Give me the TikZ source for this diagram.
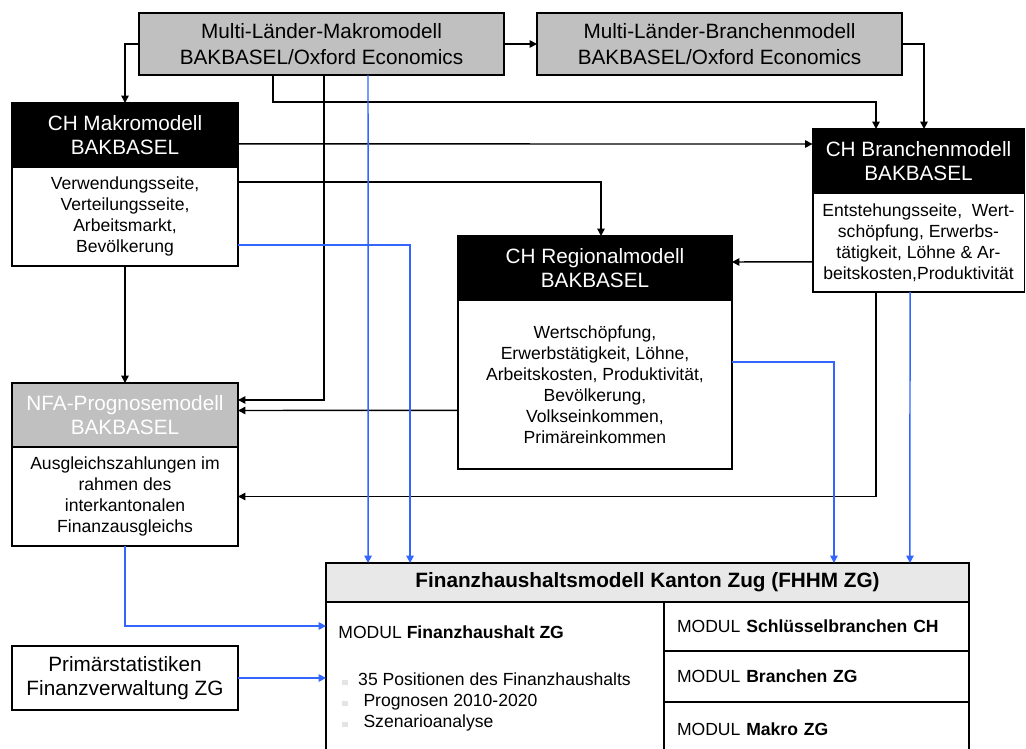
\documentclass[tikz,border=0pt]{standalone}
\usepackage{fontspec}
\setmainfont{Liberation Sans}
\usetikzlibrary{arrows.meta,positioning}
\definecolor{bakgray}{RGB}{192,192,192}
\definecolor{titlegray}{RGB}{232,232,232}
\definecolor{flowblue}{RGB}{51,102,255}
\definecolor{dotgray}{RGB}{228,228,228}
\newcommand{\hdfont}{\fontsize{11.8}{14}\selectfont}
\newcommand{\bdfont}{\fontsize{10}{12}\selectfont}
\newcommand{\bul}{\textcolor{dotgray}{\rule{3pt}{3pt}}}

\begin{document}
\begin{tikzpicture}[x=0.02cm, y=-0.02cm]
\tikzstyle{box}=[draw, line width=1.1pt, outer sep=0pt, inner sep=2pt, align=center]
\tikzstyle{topbox}=[box, fill=bakgray, minimum width=7.3cm, minimum height=1.24cm,
  font=\fontsize{11.8}{15}\selectfont]
\tikzstyle{head}=[box, fill=black, text=white, minimum height=1.28cm, font=\hdfont]
\tikzstyle{body}=[box, fill=white, font=\bdfont]
\tikzstyle{modbox}=[box, minimum width=6.1cm, text width=5.58cm, inner xsep=0.26cm,
  align=left, font=\bdfont]
\tikzstyle{arr}=[-{Triangle[length=4.2pt,width=4.2pt]}, line width=0.85pt]
\tikzstyle{barr}=[arr, flowblue]
\useasboundingbox (0,0) rectangle (1026,749);
\clip (0,0) rectangle (1026,749);
\node[topbox] (mlmakro) at (321.5,44) {Multi-Länder-Makromodell\\BAKBASEL/Oxford Economics};
\node[topbox] (mlbranch) at (719.5,44) {Multi-Länder-Branchenmodell\\BAKBASEL/Oxford Economics};
\node[head, minimum width=4.52cm] (chmakrohead) at (125,135) {CH Makromodell\\BAKBASEL};
\node[body, minimum width=4.52cm, minimum height=1.98cm, below=0pt of chmakrohead]
  (chmakrobody) {Verwendungsseite,\\Verteilungsseite,\\Arbeitsmarkt,\\Bevölkerung};
\node[head, minimum width=4.24cm] (chbranchhead) at (918.5,161) {CH Branchenmodell\\BAKBASEL};
\node[body, minimum width=4.24cm, minimum height=1.98cm, inner xsep=0pt, below=0pt of chbranchhead]
  (chbranchbody) {Entstehungsseite,\ \ Wert-\\schöpfung, Erwerbs-\\tätigkeit, Löhne \& Ar-\\beitskosten,Produktivität};
\node[head, minimum width=5.48cm] (chregiohead) at (595,268) {CH Regionalmodell\\BAKBASEL};
\node[body, minimum width=5.48cm, minimum height=3.38cm, below=0pt of chregiohead]
  (chregiobody) {Wertschöpfung,\\Erwerbstätigkeit, Löhne,\\Arbeitskosten, Produktivität,\\Bevölkerung,\\Volkseinkommen,\\Primäreinkommen};
\node[head, fill=bakgray, minimum width=4.52cm] (nfahead) at (125,415) {NFA-Prognosemodell\\BAKBASEL};
\node[body, minimum width=4.52cm, minimum height=1.98cm, below=0pt of nfahead]
  (nfabody) {Ausgleichszahlungen im\\rahmen des\\interkantonalen\\Finanzausgleichs};
\node[box, minimum width=4.52cm, minimum height=1.28cm, font=\hdfont] (primstat) at (125,678)
  {Primärstatistiken\\Finanzverwaltung ZG};
\node[box, fill=titlegray, minimum width=12.86cm, minimum height=0.78cm, font=\bfseries\hdfont]
  (fhhm) at (647.5,582.5) {Finanzhaushaltsmodell Kanton Zug (FHHM ZG)};
\node[box, minimum width=6.76cm, minimum height=3.16cm, below right=0pt of fhhm.south west] (fhhmleft) {};
\node[anchor=west, inner sep=0pt, font=\bdfont] (modfh) at ([xshift=0.24cm,yshift=-0.6cm]fhhmleft.north west)
  {MODUL \textbf{Finanzhaushalt ZG}};
\node[anchor=north west, inner sep=0pt, align=left, font=\bdfont] (modlist)
  at ([xshift=0.32cm,yshift=-1.4cm]fhhmleft.north west)
  {\bul\hspace{6pt}35 Positionen des Finanzhaushalts\\\bul\hspace{9pt}Prognosen 2010-2020\\\bul\hspace{9pt}Szenarioanalyse};
\node[modbox, minimum height=0.98cm, below left=0pt of fhhm.south east] (modschl) {MODUL \textbf{Schlüsselbranchen CH}};
\node[modbox, minimum height=1.02cm, below=0pt of modschl] (modbr) {MODUL \textbf{Branchen ZG}};
\node[modbox, minimum height=1.08cm, below=0pt of modbr] (modmak) {MODUL \textbf{Makro ZG}};
\draw[arr] (mlmakro.west) -| (chmakrohead.north);
\draw[arr] (mlmakro.east) -- (mlbranch.west);
\draw[arr] (mlbranch.east) -| ([xshift=0.11cm]chbranchhead.north);
\draw[arr] ([xshift=-0.97cm]mlmakro.south) -- ++(0,27) -| ([xshift=-0.85cm]chbranchhead.north);
\draw[arr] ([xshift=0.05cm]mlmakro.south) |- ([yshift=0.3cm]nfahead.east);
\draw[arr] ([yshift=-0.18cm]chmakrohead.east) -- ([yshift=0.34cm]chbranchhead.west);
\draw[arr] ([yshift=0.69cm]chmakrobody.east) -| ([xshift=0.12cm]chregiohead.north);
\draw[arr] (chmakrobody) -- (nfahead);
\draw[arr] ([yshift=-0.39cm]chbranchbody.west) -- ([yshift=0.12cm]chregiohead.east);
\draw[arr] ([xshift=-0.85cm]chbranchbody.south) |- (nfabody.east);
\draw[arr] ([yshift=-0.52cm]chregiobody.west) -- ([yshift=0.09cm]nfahead.east);
\draw[barr] ([xshift=0.93cm]mlmakro.south) -- ([xshift=-5.59cm]fhhm.north);
\draw[barr] ([yshift=-0.57cm]chmakrobody.east) -| ([xshift=-4.75cm]fhhm.north);
\draw[barr] ([yshift=0.45cm]chregiobody.east) -| ([xshift=3.73cm]fhhm.north);
\draw[barr] ([xshift=-0.17cm]chbranchbody.south) -- ([xshift=5.25cm]fhhm.north);
\draw[barr] (nfabody.south) |- ([yshift=1.1cm]fhhmleft.west);
\draw[barr] (primstat.east) -- (primstat.east -| fhhmleft.west);
\end{tikzpicture}
\end{document}
